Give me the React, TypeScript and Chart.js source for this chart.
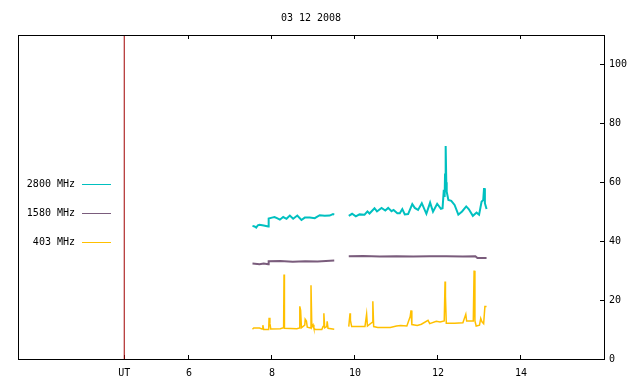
import React, { useEffect, useRef } from "react";
import { Chart, registerables } from "chart.js";

Chart.register(...registerables);

const TITLE = "03 12 2008";
const X_MIN = 1.88;
const X_MAX = 16;
const UT_X = 4.44;
const X_TICKS = [UT_X, 6, 8, 10, 12, 14];
const X_TOP_TICKS = [6, 8, 10, 12, 14];
const Y_TICKS = [0, 20, 40, 60, 80, 100];
const Y_MAX = 110;

const LABELS = ["2800 MHz", "1580 MHz", "403 MHz"];
const COLORS = ["#00c0c0", "#7a5c7c", "#ffc000"];

const T2800 = [
  7.53, 7.58, 7.62, 7.66, 7.7, 7.8, 7.91, 7.92, 8.0, 8.06, 8.12, 8.19, 8.27, 8.35, 8.43, 8.51, 8.61, 8.71, 8.79, 8.91, 9.03, 9.15, 9.27, 9.39, 9.47, 9.5,
  9.68,
  9.85, 9.93, 10.02, 10.11, 10.23, 10.3, 10.35, 10.47, 10.53, 10.64, 10.73, 10.8, 10.88, 10.93, 11.02, 11.08, 11.14, 11.2, 11.28, 11.38, 11.44, 11.52, 11.61, 11.72, 11.81, 11.88, 11.98, 12.07, 12.11, 12.14, 12.16, 12.17, 12.18, 12.19, 12.2, 12.21, 12.25, 12.32, 12.4, 12.49, 12.58, 12.68, 12.74, 12.84, 12.93, 12.99, 13.05, 13.09, 13.11, 13.13, 13.17,
];
const V2800 = [
  45.2, 45.0, 44.6, 45.4, 45.6, 45.3, 45.0, 47.7, 48.0, 48.2, 47.8, 47.3, 48.2, 47.6, 48.7, 47.6, 48.7, 47.2, 48.0, 48.0, 47.8, 48.8, 48.6, 48.7, 49.2, 49.0,
  null,
  48.6, 49.3, 48.4, 49.1, 49.0, 50.1, 49.4, 51.2, 50.1, 51.3, 50.4, 51.3, 50.2, 50.6, 49.5, 49.5, 50.9, 49.1, 49.2, 52.6, 51.3, 50.6, 52.9, 49.3, 53.1, 50.0, 52.7, 51.0, 51.2, 57.4, 55.0, 63.0, 58.0, 72.3, 60.0, 56.8, 54.0, 53.7, 52.3, 49.0, 50.1, 51.8, 50.9, 48.6, 49.7, 49.0, 53.4, 54.0, 58.0, 52.9, 50.9,
];

const T1580 = [
  7.53, 7.7, 7.8, 7.91, 7.92, 8.2, 8.5, 8.8, 9.1, 9.3, 9.5,
  9.68,
  9.85, 10.2, 10.6, 11.0, 11.4, 11.8, 12.2, 12.6, 12.9, 12.95, 13.17,
];
const V1580 = [
  32.4, 32.2, 32.4, 32.2, 33.2, 33.3, 33.0, 33.2, 33.1, 33.3, 33.4,
  null,
  34.9, 35.0, 34.8, 34.9, 34.8, 34.9, 34.9, 34.8, 34.9, 34.3, 34.3,
];

const T403 = [
  7.53, 7.56, 7.7, 7.76, 7.78, 7.8, 7.92, 7.93, 7.95, 7.97, 8.2, 8.28, 8.29, 8.3, 8.6, 8.66, 8.67, 8.69, 8.71, 8.79, 8.8, 8.83, 8.85, 8.93, 8.94, 8.96, 8.99, 9.01, 9.05, 9.2, 9.23, 9.25, 9.27, 9.32, 9.33, 9.35, 9.5,
  9.68,
  9.85, 9.88, 9.89, 9.92, 10.24, 10.26, 10.28, 10.3, 10.41, 10.43, 10.45, 10.55, 10.85, 11.0, 11.1, 11.25, 11.33, 11.35, 11.37, 11.5, 11.6, 11.76, 11.8, 11.96, 12.05, 12.15, 12.17, 12.18, 12.2, 12.4, 12.6, 12.67, 12.69, 12.85, 12.87, 12.89, 12.92, 13.0, 13.03, 13.06, 13.1, 13.13, 13.17,
];
const V403 = [
  10.1, 10.5, 10.5, 10.2, 11.5, 10.0, 10.0, 14.0, 12.1, 10.2, 10.3, 10.6, 28.7, 10.4, 10.3, 10.5, 17.9, 16.5, 10.6, 11.5, 13.5, 12.9, 10.8, 10.5, 25.0, 10.8, 11.6, 10.4, 10.0, 10.0, 11.0, 15.5, 10.6, 11.0, 12.8, 10.4, 10.1,
  null,
  11.0, 15.5, 13.1, 11.0, 11.0, 13.1, 15.2, 11.2, 12.4, 19.6, 11.0, 10.7, 10.7, 11.2, 11.4, 11.2, 14.4, 16.5, 11.7, 11.4, 11.8, 13.1, 12.0, 12.8, 12.6, 12.9, 26.3, 21.3, 12.1, 12.1, 12.3, 15.2, 12.9, 12.9, 30.0, 12.9, 11.2, 11.5, 13.8, 12.6, 12.0, 17.8, 17.8,
];

const FONT = { family: "'DejaVu Sans Mono', monospace", size: 10 };

const pts = (t: number[], v: (number | null)[]) => t.map((x, i) => ({ x, y: v[i] }));

const framePlugin = {
  id: "frame",
  afterDraw(chart: any) {
    const { ctx, chartArea: a } = chart;
    ctx.save();
    ctx.strokeStyle = "#000";
    ctx.lineWidth = 1;
    ctx.strokeRect(a.left + 0.5, a.top + 0.5, a.right - a.left, a.bottom - a.top);
    ctx.font = `${FONT.size}px ${FONT.family}`;
    ctx.fillStyle = "#000";
    ctx.textAlign = "center";
    ctx.textBaseline = "middle";
    ctx.fillText(TITLE, (a.left + a.right) / 2, 18);
    const ys = [184.5, 213.5, 242.5];
    for (let i = 0; i < 3; i++) {
      ctx.textAlign = "right";
      ctx.fillStyle = "#000";
      ctx.fillText(LABELS[i], 75, ys[i]);
      ctx.strokeStyle = COLORS[i];
      ctx.beginPath();
      ctx.moveTo(82, ys[i]);
      ctx.lineTo(111, ys[i]);
      ctx.stroke();
    }
    ctx.restore();
  },
};

export default function App() {
  const ref = useRef<HTMLCanvasElement | null>(null);
  useEffect(() => {
    if (!ref.current) return;
    const gridOpts = { drawOnChartArea: false, drawTicks: true, tickLength: -4, color: "#000", tickWidth: 1 };
    const chart = new Chart(ref.current, {
      type: "line",
      data: {
        datasets: [
          { label: LABELS[0], data: pts(T2800, V2800), borderColor: COLORS[0], borderWidth: 2, spanGaps: false },
          { label: LABELS[1], data: pts(T1580, V1580), borderColor: COLORS[1], borderWidth: 2, spanGaps: false },
          { label: LABELS[2], data: pts(T403, V403), borderColor: COLORS[2], borderWidth: 1.5, spanGaps: false },
          { label: "UT", data: [{ x: UT_X, y: 0 }, { x: UT_X, y: Y_MAX }], borderColor: "#a00000", borderWidth: 1 },
        ],
      } as any,
      options: {
        animation: false,
        responsive: false,
        maintainAspectRatio: false,
        layout: { padding: { left: 18, top: 35, right: 0, bottom: 0 } },
        elements: { point: { radius: 0 }, line: { tension: 0 } },
        plugins: { legend: { display: false }, title: { display: false }, tooltip: { enabled: false } },
        scales: {
          x: {
            type: "linear",
            position: "bottom",
            min: X_MIN,
            max: X_MAX,
            afterBuildTicks: (s: any) => { s.ticks = X_TICKS.map((value) => ({ value })); },
            afterFit: (s: any) => { s.height = 25; },
            ticks: {
              autoSkip: false,
              maxRotation: 0,
              padding: 12,
              color: "#000",
              font: FONT,
              callback: (v: any) => (v === UT_X ? "UT" : String(v)),
            },
            grid: gridOpts,
            border: { display: true, color: "#000", width: 1 },
          },
          xTop: {
            type: "linear",
            position: "top",
            min: X_MIN,
            max: X_MAX,
            afterBuildTicks: (s: any) => { s.ticks = X_TOP_TICKS.map((value) => ({ value })); },
            afterFit: (s: any) => { s.height = 0; },
            ticks: { display: false },
            grid: gridOpts,
            border: { display: true, color: "#000", width: 1 },
          },
          y: {
            type: "linear",
            position: "right",
            min: 0,
            max: Y_MAX,
            afterBuildTicks: (s: any) => { s.ticks = Y_TICKS.map((value) => ({ value })); },
            afterFit: (s: any) => { s.width = 36; },
            ticks: { padding: 9, color: "#000", font: FONT },
            grid: gridOpts,
            border: { display: true, color: "#000", width: 1 },
          },
        },
      } as any,
      plugins: [framePlugin],
    });
    return () => chart.destroy();
  }, []);
  return (
    <div style={{ position: "fixed", left: 0, top: 0, width: 640, height: 384, background: "#fff" }}>
      <canvas ref={ref} width={640} height={384} style={{ display: "block" }} />
    </div>
  );
}
